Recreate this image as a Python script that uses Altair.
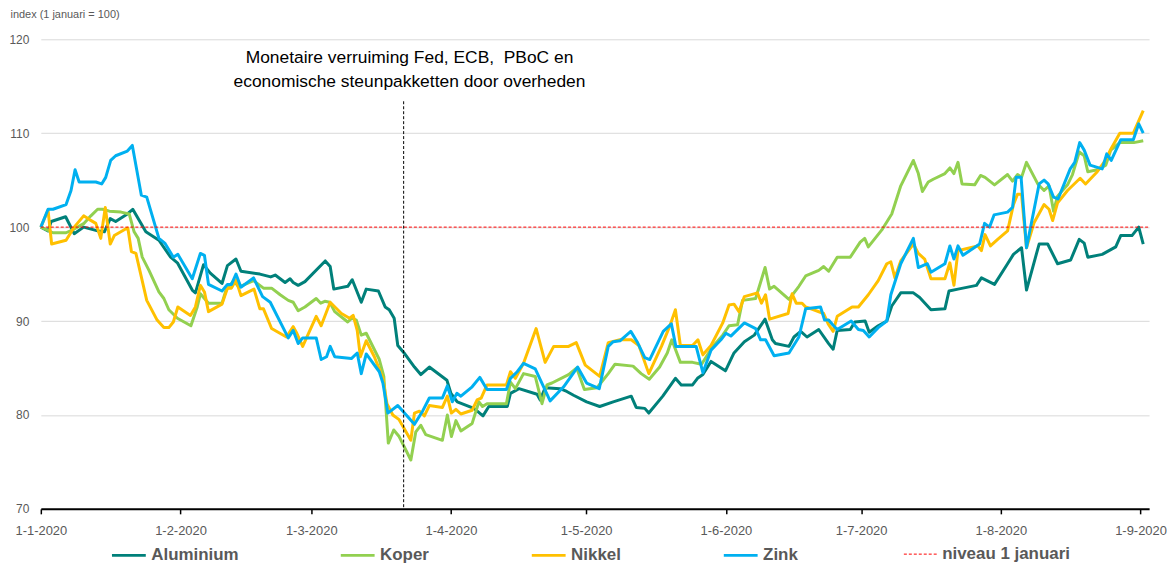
import altair as alt
import pandas as pd

START = pd.Timestamp("2020-01-01")
X_END_DAYS = 245.9          # end of the time axis, days after 1 Jan 2020
EVENT_DAY = 80.5            # vertical marker (monetary easing)

SERIES = ["Aluminium", "Koper", "Nikkel", "Zink"]
COLORS = ["#00807A", "#92D050", "#FFC000", "#00B0F0"]
REF_LABEL = "niveau 1 januari"

# (days after 1 Jan 2020, index value)
ALUMINIUM = [(0, 100), (1.6, 99.6), (2.3, 100.6), (5.5, 101.1), (7.4, 99.3), (9.5, 100.0), (12.6, 99.6),
             (14.1, 99.5), (15.4, 100.9), (16.6, 100.6), (19.2, 101.4), (20.4, 101.9), (23.3, 99.5),
             (26.2, 98.6), (28.8, 96.8), (30.3, 96.2), (33.6, 93.3), (34.3, 93.0), (36.1, 96.0),
             (37.6, 95.1), (40.2, 94.0), (41.4, 95.9), (43.3, 96.6), (44.4, 95.3), (48.6, 95.0),
             (51.0, 94.7), (52.0, 94.9), (54.2, 94.1), (55.3, 94.5), (56.0, 94.1), (57.1, 93.8),
             (58.6, 94.2), (63.1, 96.4), (64.2, 95.8), (65.0, 93.4), (68.1, 93.7), (69.1, 94.4),
             (71.1, 92.0), (72.2, 93.4), (74.9, 93.2), (76.4, 91.5), (77.3, 91.2), (78.4, 90.3),
             (79.2, 87.4), (80.6, 86.6), (82.9, 85.1), (84.3, 84.3), (86.2, 85.1), (90.1, 83.7),
             (91.0, 82.3), (92.4, 81.4), (96.1, 80.7), (98.1, 79.9), (99.4, 80.9), (103.5, 80.9),
             (104.2, 82.3), (106.1, 82.8), (110.1, 82.2), (110.8, 81.6), (111.9, 82.9), (115.2, 82.8),
             (116.7, 82.5), (118.2, 82.1), (121.1, 81.4), (124.0, 80.9), (127.0, 81.4), (131.0, 82.0),
             (132.1, 80.8), (134.0, 80.7), (134.9, 80.2), (138.0, 82.0), (140.8, 83.9), (142.1, 83.2),
             (144.6, 83.2), (145.7, 83.9), (146.9, 84.3), (148.7, 85.7), (151.9, 84.7), (153.8, 86.6),
             (156.1, 87.8), (158.3, 88.5), (160.7, 90.2), (162.3, 88.0), (163.0, 87.6), (166.0, 87.3),
             (167.1, 88.3), (168.6, 88.9), (170.0, 88.3), (172.6, 89.1), (174.8, 87.6), (175.8, 87.0),
             (176.7, 89.0), (179.6, 89.1), (180.6, 89.9), (182.9, 90.0), (183.8, 88.8), (185.8, 89.5),
             (187.7, 90.0), (188.8, 91.6), (190.8, 93.0), (193.6, 93.0), (195.0, 92.5), (197.5, 91.2),
             (200.6, 91.3), (201.5, 93.2), (203.5, 93.4), (207.6, 93.8), (208.7, 94.6), (211.6, 93.9),
             (214.5, 96.1), (215.8, 97.1), (217.6, 97.8), (218.7, 93.3), (221.5, 98.2), (223.4, 98.2),
             (225.6, 96.1), (228.5, 96.5), (230.4, 98.7), (231.5, 98.3), (232.3, 96.8), (235.5, 97.1),
             (238.5, 97.9), (239.6, 99.1), (242.1, 99.1), (243.6, 100.0), (244.6, 98.2)]

KOPER = [(0, 100), (2.7, 99.4), (5.6, 99.4), (7.4, 99.8), (9.6, 100.4), (11.1, 101.2), (12.6, 101.9),
         (13.7, 101.9), (15.2, 101.7), (17.8, 101.6), (19.6, 101.4), (20.7, 99.5), (21.6, 98.8),
         (22.5, 96.8), (24.0, 95.4), (26.2, 93.1), (27.3, 92.4), (28.4, 91.2), (30.3, 90.3),
         (33.3, 89.5), (34.7, 91.5), (35.4, 92.9), (37.2, 91.9), (40.2, 91.9), (41.1, 93.3),
         (42.8, 94.3), (43.9, 93.6), (47.2, 94.3), (49.4, 93.5), (51.2, 93.5), (53.1, 92.8),
         (54.9, 92.2), (56.0, 92.0), (57.1, 91.1), (58.6, 91.5), (61.1, 92.4), (62.1, 91.9),
         (63.0, 92.1), (64.1, 92.0), (65.2, 91.0), (68.1, 89.9), (69.0, 90.3), (70.0, 90.1),
         (71.1, 88.5), (72.2, 88.7), (75.1, 85.9), (76.1, 84.1), (77.1, 77.0), (78.3, 78.4),
         (79.5, 77.7), (82.1, 75.2), (83.2, 78.2), (84.3, 78.9), (85.4, 77.9), (89.1, 77.3),
         (90.2, 80.0), (91.1, 77.7), (92.1, 79.4), (93.2, 78.3), (95.7, 79.1), (97.2, 81.4),
         (98.0, 80.9), (99.0, 81.2), (103.3, 81.2), (104.2, 83.5), (105.3, 82.8), (107.1, 84.4),
         (109.7, 84.1), (111.2, 81.2), (112.3, 83.2), (113.4, 83.4), (117.1, 84.3), (118.9, 85.0),
         (120.6, 82.7), (123.4, 82.9), (125.9, 84.4), (127.4, 85.4), (131.4, 85.2), (133.2, 84.4),
         (135.0, 83.8), (137.3, 85.1), (139.0, 86.6), (140.0, 88.0), (141.9, 85.6), (144.6, 85.6),
         (146.6, 85.4), (149.1, 87.3), (151.3, 88.5), (152.7, 89.5), (154.6, 89.6), (155.7, 92.2),
         (158.6, 92.4), (160.7, 95.7), (161.7, 93.4), (162.7, 93.7), (166.0, 92.3), (168.2, 93.7),
         (169.7, 94.8), (172.6, 95.4), (173.7, 95.8), (174.8, 95.3), (176.7, 96.8), (179.6, 96.8),
         (181.8, 98.4), (182.8, 98.8), (183.6, 97.9), (186.6, 99.7), (188.8, 101.4), (190.8, 104.4),
         (193.6, 107.1), (194.7, 105.7), (195.6, 103.8), (196.9, 104.8), (198.0, 105.1), (200.6, 105.7),
         (201.7, 106.3), (202.6, 105.7), (203.5, 106.9), (204.4, 104.6), (207.2, 104.5), (208.5, 105.5),
         (209.5, 105.3), (211.6, 104.5), (214.5, 105.6), (215.6, 104.9), (216.7, 105.6), (217.6, 105.3),
         (218.7, 106.9), (221.2, 104.6), (222.6, 103.9), (223.7, 104.4), (224.7, 101.7), (225.6, 103.3),
         (227.8, 104.5), (228.9, 105.6), (230.4, 108.0), (231.5, 107.6), (232.3, 105.9), (234.4, 106.1),
         (236.3, 106.6), (237.4, 108.2), (239.4, 109.0), (242.5, 109.0), (244.6, 109.2)]

NIKKEL = [(0, 100), (1.6, 101.8), (2.4, 98.2), (5.6, 98.6), (7.4, 100.0), (9.5, 101.2), (10.8, 100.8),
          (12.2, 100.4), (13.3, 98.8), (14.3, 102.1), (15.4, 98.2), (16.3, 99.1), (18.8, 99.8),
          (19.3, 99.9), (20.1, 97.4), (21.1, 97.2), (23.5, 92.2), (25.8, 90.1), (27.3, 89.3),
          (28.4, 89.3), (29.4, 89.9), (30.4, 91.5), (33.2, 90.6), (34.3, 91.5), (35.4, 93.8),
          (36.3, 93.1), (37.2, 91.0), (40.2, 91.8), (41.4, 93.5), (42.3, 93.5), (43.3, 94.4),
          (44.4, 92.7), (47.3, 93.4), (48.6, 91.3), (49.4, 91.3), (51.2, 89.2), (54.5, 88.3),
          (56.0, 89.4), (56.8, 88.7), (58.1, 87.3), (61.1, 90.5), (62.2, 89.5), (64.2, 92.0),
          (66.7, 90.8), (68.5, 90.3), (69.3, 90.6), (70.2, 89.0), (70.9, 86.2), (72.2, 87.9),
          (74.0, 86.2), (75.9, 83.9), (76.8, 81.2), (78.1, 80.0), (79.5, 79.5), (82.1, 77.3),
          (82.9, 80.2), (84.0, 80.4), (85.1, 79.9), (86.2, 81.0), (89.1, 80.8), (90.2, 82.0),
          (91.1, 80.2), (92.1, 80.6), (93.2, 80.1), (95.7, 80.5), (96.8, 81.6), (97.7, 81.8),
          (99.0, 83.2), (103.3, 83.2), (104.2, 84.6), (105.3, 83.9), (107.1, 85.5), (109.9, 89.2),
          (111.9, 85.6), (113.8, 87.3), (117.1, 87.3), (118.8, 87.7), (120.8, 85.3), (124.0, 84.1),
          (125.9, 87.7), (128.5, 88.0), (131.0, 88.0), (132.7, 87.4), (134.9, 84.4), (137.7, 87.3),
          (139.5, 89.4), (140.8, 91.2), (141.9, 87.4), (144.6, 87.4), (145.8, 88.0), (146.9, 86.4),
          (148.7, 87.4), (151.3, 89.8), (152.7, 91.7), (153.8, 91.8), (154.9, 91.0), (156.1, 92.6),
          (159.0, 93.0), (159.9, 91.9), (160.8, 92.8), (161.7, 90.2), (165.8, 90.8), (166.7, 92.9),
          (167.6, 91.9), (168.9, 91.9), (169.7, 91.5), (173.7, 90.8), (174.7, 89.7), (175.8, 88.9),
          (176.7, 90.5), (180.0, 91.5), (181.4, 91.5), (183.6, 92.8), (185.8, 94.3), (187.7, 96.1),
          (188.6, 96.3), (189.5, 94.6), (190.8, 96.4), (193.6, 98.2), (194.7, 97.2), (196.1, 96.6),
          (197.5, 94.5), (200.6, 94.5), (201.7, 96.2), (202.6, 93.8), (203.5, 97.5), (205.3, 97.7),
          (207.9, 98.0), (208.7, 97.5), (209.5, 99.2), (210.7, 98.0), (212.3, 98.7), (214.5, 99.6),
          (215.8, 102.4), (216.7, 103.5), (217.6, 103.5), (218.7, 97.8), (220.4, 100.5), (222.6, 102.4),
          (223.7, 101.9), (224.5, 100.7), (225.6, 102.6), (227.8, 103.9), (230.6, 105.2), (231.8, 104.6),
          (234.4, 105.9), (236.2, 107.1), (237.4, 108.3), (239.4, 110.0), (242.4, 110.0), (244.6, 112.4)]

ZINK = [(0, 100), (1.6, 101.9), (2.7, 101.9), (5.6, 102.4), (6.7, 103.9), (7.6, 106.1), (8.5, 104.8),
        (12.2, 104.8), (13.5, 104.6), (14.4, 105.3), (15.5, 107.1), (16.6, 107.6), (19.2, 108.1),
        (20.3, 108.7), (22.3, 103.4), (23.5, 103.2), (26.2, 98.8), (27.5, 98.3), (29.4, 96.8),
        (30.4, 97.1), (33.6, 94.5), (35.4, 97.2), (36.3, 97.0), (37.2, 93.9), (40.2, 93.2),
        (41.4, 93.9), (42.3, 93.9), (43.3, 95.0), (44.4, 93.6), (47.2, 94.6), (49.2, 92.6),
        (50.9, 92.0), (54.9, 88.2), (56.0, 89.0), (57.1, 87.6), (58.1, 88.2), (61.1, 88.2),
        (62.2, 85.9), (63.4, 86.2), (64.2, 87.3), (65.2, 86.2), (68.9, 86.0), (70.2, 86.6),
        (71.1, 84.4), (72.2, 86.5), (75.1, 84.6), (75.9, 83.4), (77.0, 80.2), (79.2, 81.0),
        (82.9, 79.0), (84.7, 80.4), (86.2, 81.8), (89.1, 81.8), (90.2, 83.1), (91.3, 81.4),
        (92.3, 82.3), (93.2, 82.0), (95.7, 83.0), (97.4, 84.0), (99.0, 82.7), (103.3, 82.7),
        (104.2, 83.9), (105.7, 84.6), (107.1, 85.5), (109.7, 84.9), (113.0, 81.5), (116.0, 83.0),
        (119.1, 85.1), (121.1, 83.4), (123.9, 82.8), (125.9, 87.3), (127.0, 87.8), (128.5, 87.9),
        (130.9, 88.9), (132.3, 87.8), (134.0, 86.1), (135.1, 85.9), (138.1, 88.9), (139.9, 89.7),
        (140.9, 87.3), (145.4, 87.3), (146.9, 84.5), (148.7, 86.9), (150.9, 88.0), (152.0, 88.7),
        (153.1, 88.4), (156.1, 89.8), (158.6, 89.2), (159.7, 88.0), (160.8, 88.0), (162.7, 86.3),
        (166.0, 86.6), (168.2, 88.3), (169.7, 91.3), (173.0, 91.5), (173.9, 90.1), (174.8, 90.1),
        (175.7, 89.6), (176.7, 89.1), (179.8, 90.0), (181.4, 89.1), (182.5, 89.0), (183.8, 88.3),
        (185.8, 89.3), (187.7, 90.0), (188.6, 92.8), (190.8, 96.1), (193.6, 98.8), (194.7, 95.7),
        (196.7, 96.1), (197.5, 95.2), (200.6, 96.1), (201.7, 98.0), (202.6, 96.6), (203.5, 98.0),
        (204.6, 97.0), (208.3, 98.2), (209.4, 100.4), (210.5, 100.0), (211.5, 101.3), (214.5, 101.6),
        (215.6, 102.1), (216.4, 105.3), (217.5, 105.3), (218.7, 97.8), (221.5, 104.6), (222.6, 105.0),
        (223.5, 104.6), (224.7, 103.2), (225.7, 103.0), (228.4, 106.2), (229.4, 106.9), (230.5, 109.0),
        (231.5, 108.2), (232.8, 106.6), (235.5, 106.2), (236.5, 107.8), (237.5, 107.1), (239.6, 109.3),
        (242.4, 109.3), (243.6, 111.0), (244.6, 110.0)]

ANNOTATION_LINES = ["Monetaire verruiming Fed, ECB,\u00a0 PBoC en",
                    "economische steunpakketten door overheden"]
ANNOTATION_Y = [118.0, 115.4]
Y_TICKS = [70, 80, 90, 100, 110, 120]
REF_VALUE = 100

FONT = "'Liberation Sans', Arial, sans-serif"
GREY = "#595959"


def to_date(d):
    return START + pd.to_timedelta(d, unit="D")


rows = []
for name, pts in zip(SERIES, [ALUMINIUM, KOPER, NIKKEL, ZINK]):
    for d, v in pts:
        rows.append({"date": to_date(d), "value": v, "series": name})
df = pd.DataFrame(rows)

ref_df = pd.DataFrame({"date": [to_date(0), to_date(X_END_DAYS)],
                       "value": [REF_VALUE, REF_VALUE], "ref": [REF_LABEL, REF_LABEL]})
event_df = pd.DataFrame({"date": [to_date(EVENT_DAY)], "top": [113.4], "bottom": [70]})
ann_df = pd.DataFrame({"date": [to_date(81.8)] * 2, "value": ANNOTATION_Y, "text": ANNOTATION_LINES})

x_scale = alt.Scale(domain=[alt.DateTime(year=2020, month=1, date=1),
                            alt.DateTime(year=2020, month=9, date=2, hours=21, minutes=36)])
y_scale = alt.Scale(domain=[70, 120])

x_axis = alt.Axis(values=[alt.DateTime(year=2020, month=m, date=1) for m in range(1, 10)],
                  format="%-d-%-m-%Y", formatType="time", title=None, grid=False,
                  domainColor="#000000", domainWidth=2, tickColor="#000000", tickWidth=1.5,
                  tickSize=5, labelFont=FONT, labelFontSize=13, labelColor=GREY,
                  labelPadding=11, labelOverlap=False, labelFlush=False)
y_axis = alt.Axis(values=Y_TICKS, title="index (1 januari = 100)", titleAngle=0, titleX=-31,
                  titleY=-25, titleAlign="left", titleBaseline="middle", titleFont=FONT,
                  titleFontSize=11, titleFontWeight="normal", titleColor=GREY,
                  domain=False, ticks=False, grid=True, gridColor="#D9D9D9", gridWidth=1,
                  labelFont=FONT, labelFontSize=12, labelColor=GREY, labelPadding=12)

legend_common = dict(title=None, orient="none", legendY=500, symbolType="stroke", symbolSize=1156,
                     labelOffset=4, labelFont=FONT, labelFontSize=17, labelFontWeight="bold",
                     labelColor=GREY, padding=0)

lines = alt.Chart(df).mark_line(strokeWidth=3, strokeJoin="round").encode(
    x=alt.X("date:T", scale=x_scale, axis=x_axis),
    y=alt.Y("value:Q", scale=y_scale, axis=y_axis),
    color=alt.Color("series:N", scale=alt.Scale(domain=SERIES, range=COLORS),
                    legend=alt.Legend(legendX=70, direction="horizontal", columns=4,
                                      columnPadding=96, symbolStrokeWidth=3, **legend_common)),
)

ref = alt.Chart(ref_df).mark_line(color="#FF0000", strokeWidth=1).encode(
    x="date:T",
    y="value:Q",
    strokeDash=alt.StrokeDash("ref:N", scale=alt.Scale(domain=[REF_LABEL], range=[[3, 2]]),
                              legend=alt.Legend(legendX=867, symbolStrokeWidth=1,
                                                symbolStrokeColor="#FF0000", symbolDash=[3, 2],
                                                **legend_common)),
)

event = alt.Chart(event_df).mark_rule(color="#000000", strokeWidth=1, strokeDash=[3, 2]).encode(
    x="date:T", y="top:Q", y2="bottom:Q")

ann = alt.Chart(ann_df).mark_text(font=FONT, fontSize=17.5, color="#000000", align="center",
                                  baseline="middle").encode(
    x="date:T", y="value:Q", text="text:N")

chart = alt.layer(lines, ref, event, ann).properties(
    width=1114, height=472,
    padding={"left": 33, "top": 30, "right": 18, "bottom": 60},
    autosize=alt.AutoSizeParams(type="none"),
).configure_view(stroke=None)

chart.save("out.html", embed_options={"renderer": "svg", "actions": False})
